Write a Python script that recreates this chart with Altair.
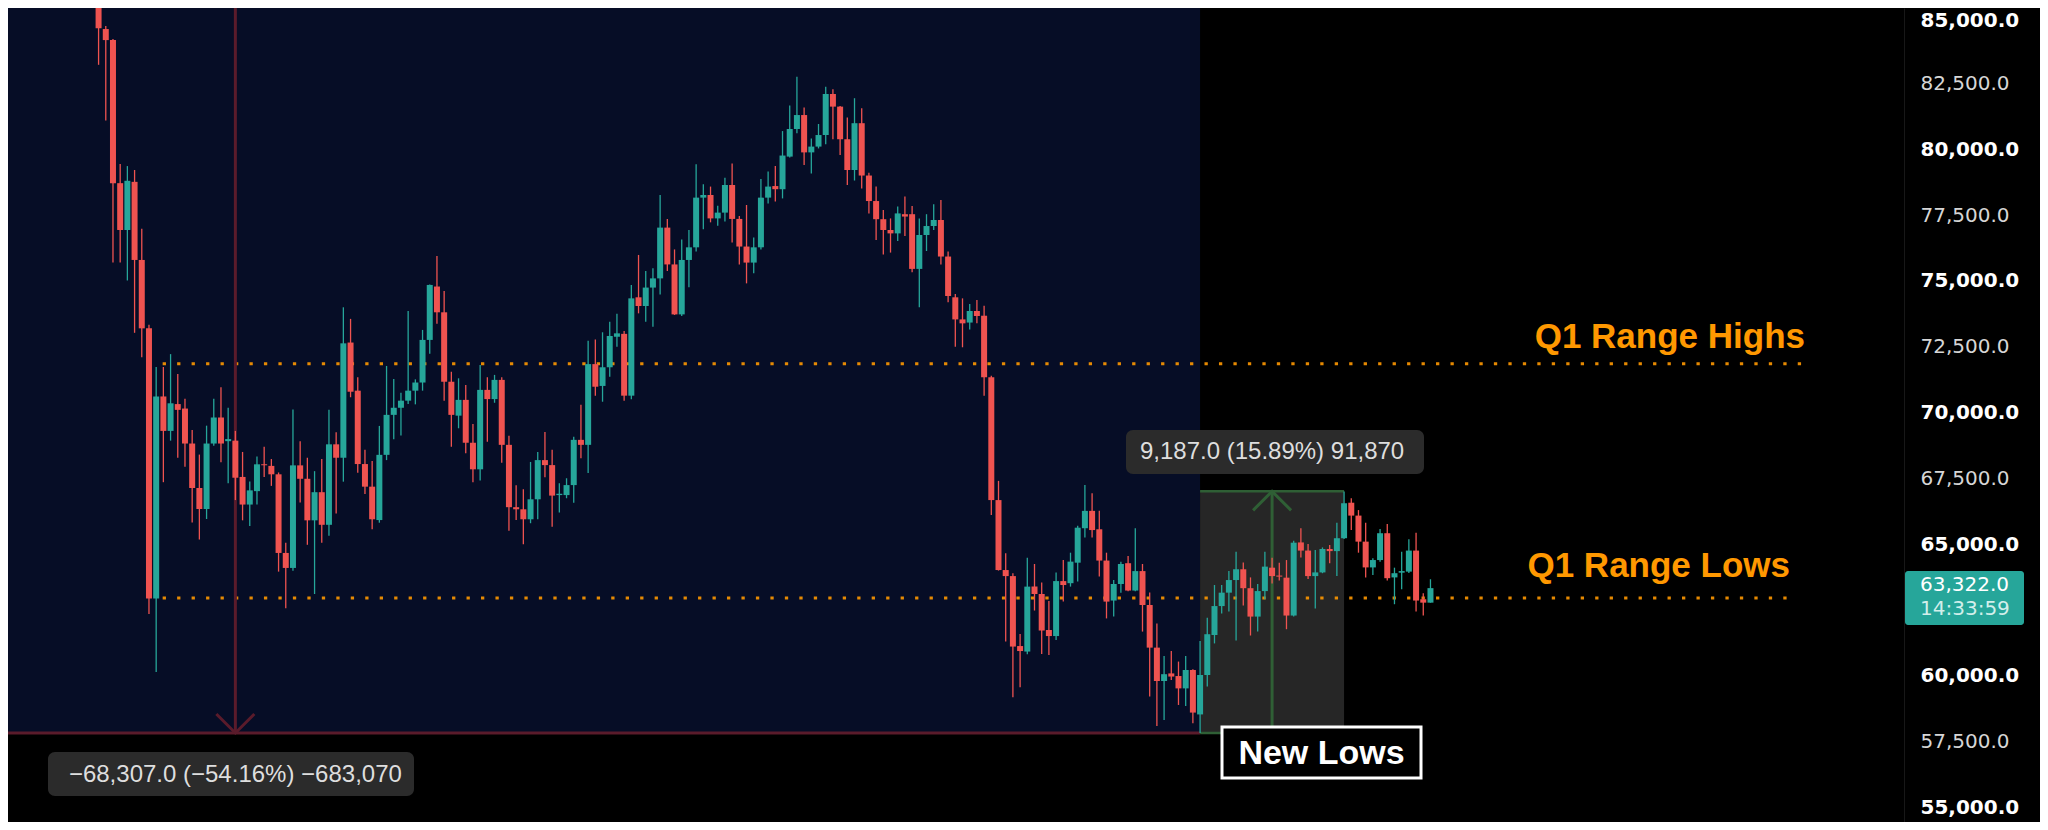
import altair as alt
import pandas as pd

# ---------------- data ----------------
opens = [
    86500, 84580, 84160, 78720, 76940, 78770, 75800, 73200, 62930, 70610,
    69300, 70320, 70150, 68820, 67130, 66330, 68820, 69810, 68910, 68930,
    67550, 66500, 67010, 68030, 67970, 67650, 64660, 64090, 67990, 67480,
    65900, 66970, 65730, 68790, 68280, 72660, 70830, 68040, 67180, 65910,
    68390, 69910, 70180, 70450, 70830, 71140, 72760, 74790, 73810, 71170,
    69880, 70480, 68850, 67840, 70860, 70510, 71240, 68770, 66400, 66320,
    65940, 66700, 68190, 68000, 66860, 66860, 67240, 68960, 68770, 71840,
    71010, 71720, 72880, 72990, 70640, 74380, 74050, 74750, 75100, 77030,
    75630, 73730, 75800, 76280, 78170, 78270, 77380, 77600, 78650, 77360,
    76310, 75700, 76280, 78170, 78610, 78490, 79730, 80780, 81310, 79890,
    80110, 80550, 82110, 81630, 80390, 79220, 81000, 79010, 78040, 77350,
    76940, 76810, 77540, 77540, 75460, 76750, 77090, 77320, 75930, 74380,
    73540, 73420, 73860, 73680, 71340, 66670, 64010, 63780, 61120, 60910,
    63380, 63100, 61730, 61500, 63590, 63510, 64290, 65600, 66260, 65560,
    64370, 62850, 63480, 64270, 63230, 63970, 62680, 61060, 59790, 60080,
    59980, 59510, 60210, 58520, 60020, 61540, 62640, 63150, 63630, 64040,
    63320, 62240, 63210, 64100, 63800, 63720, 62280, 65060, 64750, 63780,
    63920, 64810, 64730, 65220, 66570, 66080, 65090, 64110, 64390, 65410,
    63730, 63910, 63950, 64750, 62900, 62770,
]
highs = [
    87200, 84700, 84200, 79450, 79370, 79220, 76990, 73340, 71730, 71730,
    72220, 71460, 70520, 69330, 68400, 69500, 70520, 70960, 70180, 69300,
    68500, 67380, 68330, 68700, 68230, 67720, 65050, 70110, 68910, 68280,
    67770, 68230, 70100, 69250, 74000, 73560, 71340, 68580, 68160, 69490,
    71770, 71270, 70750, 73860, 71260, 73140, 74870, 75950, 74620, 71550,
    71300, 71050, 69560, 71810, 71340, 71430, 71340, 69120, 67230, 67080,
    68120, 68500, 69260, 68580, 67310, 67500, 69080, 70290, 72730, 72780,
    73050, 73450, 73750, 73100, 74850, 75990, 75380, 75480, 78270, 77360,
    76200, 76580, 76940, 79440, 78680, 78590, 77860, 78930, 79470, 77470,
    77890, 76650, 78880, 79160, 79370, 80700, 81670, 82770, 81600, 80420,
    80970, 82390, 82290, 81650, 81220, 81950, 81570, 79120, 78590, 77700,
    77380, 77830, 78210, 77850, 77380, 77540, 77920, 78080, 76120, 74510,
    74340, 74130, 74280, 74060, 71400, 67400, 64650, 63890, 61580, 64480,
    64240, 63540, 62830, 63920, 64390, 64670, 65690, 67240, 66930, 66260,
    64670, 63630, 64330, 64540, 65600, 64240, 63160, 61980, 60740, 60930,
    60530, 60740, 60240, 61310, 62200, 63440, 63440, 63970, 64710, 64300,
    63730, 63480, 64710, 64480, 64290, 64390, 65120, 65600, 65000, 64770,
    64870, 64960, 65810, 67000, 66740, 66290, 65810, 64460, 65570, 65760,
    64100, 64710, 65180, 65430, 63130, 63660,
]
lows = [
    83220, 81100, 75700, 75700, 75020, 73030, 72100, 62340, 60130, 67350,
    68930, 68280, 67940, 65820, 65170, 65950, 68740, 68110, 67310, 66670,
    65900, 65680, 66500, 67550, 67210, 63950, 62560, 63980, 66580, 64970,
    63100, 65050, 65310, 66160, 67370, 70580, 67710, 66900, 65560, 65810,
    68190, 68980, 69130, 70320, 70310, 70830, 72230, 73370, 70450, 68700,
    69400, 68450, 67350, 67410, 68890, 70370, 68090, 65500, 65910, 64990,
    65790, 65940, 67540, 65660, 66200, 66740, 66570, 68260, 67700, 70640,
    70410, 71360, 72500, 70450, 70500, 73770, 73450, 73260, 74490, 75380,
    73710, 73670, 74760, 76120, 76970, 77230, 77100, 77260, 76460, 75630,
    74910, 75290, 76200, 77950, 78020, 78140, 79700, 80620, 79410, 79090,
    80040, 80200, 80390, 79790, 78650, 78820, 78520, 77570, 76560, 76010,
    76080, 76520, 76710, 75330, 74000, 76140, 76940, 75630, 74190, 72500,
    72480, 73160, 73390, 70640, 66100, 63990, 61290, 59170, 59550, 60810,
    62470, 60820, 60780, 61350, 62810, 63380, 63570, 65250, 65250, 63760,
    62170, 62240, 63150, 63200, 63200, 61670, 59200, 58080, 58310, 59830,
    58880, 58840, 58180, 57815, 59580, 61220, 62360, 62430, 61330, 62660,
    61520, 61670, 62900, 63500, 63610, 61760, 62240, 64490, 63670, 62550,
    63890, 64270, 63780, 65190, 65530, 64670, 63730, 63820, 64330, 63610,
    62710, 63280, 63900, 62430, 62280, 62770,
]
closes = [
    84610, 84160, 78720, 76940, 78810, 75800, 73200, 62930, 70610, 69300,
    70350, 70100, 68820, 67130, 66330, 68820, 69810, 68820, 68990, 67520,
    66500, 67040, 68030, 67990, 67650, 64660, 64090, 67990, 67480, 65900,
    66970, 65730, 68790, 68280, 72630, 70790, 68040, 67180, 65940, 68390,
    69910, 70180, 70450, 70830, 71140, 72760, 74850, 73810, 71170, 69910,
    70480, 68850, 67840, 70860, 70510, 71240, 68770, 66400, 66320, 65940,
    66700, 68190, 68000, 66840, 66910, 67240, 68960, 68770, 71840, 70980,
    71720, 72910, 73010, 70640, 74340, 74050, 74750, 75100, 77030, 75630,
    73730, 75800, 76280, 78170, 78270, 77380, 77600, 78650, 77360, 76310,
    75700, 76280, 78170, 78590, 78490, 79770, 80780, 81310, 79890, 80110,
    80550, 82110, 81630, 80390, 79220, 81000, 79010, 78040, 77350, 76940,
    76810, 77570, 77450, 75460, 76750, 77090, 77320, 75930, 74430, 73540,
    73390, 73860, 73670, 71340, 66670, 64010, 63780, 61100, 60930, 63380,
    63100, 61710, 61500, 63590, 63440, 64330, 65620, 66260, 65530, 64370,
    62810, 63480, 64240, 63230, 63970, 62680, 61060, 59790, 60050, 59960,
    59510, 60210, 58590, 60020, 61570, 62640, 63150, 63630, 64040, 63320,
    62240, 63210, 64140, 63780, 63760, 62280, 65050, 64750, 63780, 63920,
    64810, 64730, 65220, 66550, 66080, 65090, 64110, 64390, 65410, 63700,
    63890, 63970, 64750, 62850, 62770, 63322,
]

tick_values = [55000, 57500, 60000, 65000, 67500, 70000, 72500,
               75000, 77500, 80000, 82500, 85000]

level_names = ["Q1 Range Highs", "Q1 Range Lows"]
level_prices = [71850, 62950]
level_from_bar = [8.9, 8.9]
level_to_bar = [237.3, 235.4]

measure_from_bar = [-115, 153]
measure_to_bar = [153, 173]
measure_from_price = [126121.6, 57814.6]
measure_to_price = [57814.6, 67001.6]
measure_labels = ["\u221268,307.0 (\u221254.16%) \u2212683,070",
                  "9,187.0 (15.89%) 91,870"]

last_price_text = "63,322.0"
countdown_text = "14:33:59"
note_text = "New Lows"

# ---------------- styling ----------------
TEAL = "#26a69a"
RED = "#ef5350"
ORANGE = "#ff9800"
NAVY = "#060d26"
GRAY_BOX = "#262626"
RED_LINE = "#5a1b2b"
GREEN_LINE = "#2f5f35"
LABEL_BOX = "#2b2b2b"
LABEL_TEXT = "#dedede"

W, H = 2032, 814
X_DOMAIN = [-11.887, 268.97]
Y_DOMAIN = [54430, 85380]

candles = pd.DataFrame({
    "bar": list(range(len(opens))),
    "open": opens, "high": highs, "low": lows, "close": closes,
})
candles["dir"] = ["up" if c >= o else "down" for o, c in zip(opens, closes)]

levels = pd.DataFrame({"name": level_names, "price": level_prices,
                       "from_bar": level_from_bar, "to_bar": level_to_bar})
measures = pd.DataFrame({"from_bar": measure_from_bar, "to_bar": measure_to_bar,
                         "from_price": measure_from_price, "to_price": measure_to_price,
                         "label": measure_labels})
measures["mid"] = (measures["from_bar"] + measures["to_bar"]) / 2
m1 = measures.iloc[[0]].reset_index(drop=True)
m2 = measures.iloc[[1]].reset_index(drop=True)
last = pd.DataFrame({"price": [closes[-1]], "p": [last_price_text], "t": [countdown_text]})
note = pd.DataFrame({"label": [note_text]})

y_axis = alt.Axis(
    orient="right", offset=-136, values=tick_values, format=",.1f",
    labelFont="DejaVu Sans", labelFontSize=20,
    labelFontWeight=alt.ExprRef(expr="datum.value % 5000 === 0 ? 'bold' : 'normal'"),
    labelColor=alt.ExprRef(expr="datum.value % 5000 === 0 ? '#ffffff' : '#d6d6d6'"),
    labelOffset=alt.ExprRef(expr="datum.value >= 85000 ? 3 : 0"),
    labelPadding=16, ticks=False, tickSize=0, grid=False,
    domain=True, domainColor="#181818", domainWidth=1, title=None,
    labelOverlap=False,
)


def X(field):
    return alt.X(f"{field}:Q", scale=alt.Scale(domain=X_DOMAIN, nice=False, zero=False), axis=None)


def Y(field):
    return alt.Y(f"{field}:Q", scale=alt.Scale(domain=Y_DOMAIN, nice=False, zero=False), axis=y_axis)


color_dir = alt.Color("dir:N", scale=alt.Scale(domain=["up", "down"], range=[TEAL, RED]), legend=None)

# measurement boxes
navy_box = alt.Chart(m1).mark_rect(color=NAVY, clip=True).encode(
    x=X("from_bar"), x2=alt.X2("to_bar"), y=Y("from_price"), y2=alt.Y2("to_price"))
gray_box = alt.Chart(m2).mark_rect(color=GRAY_BOX, clip=True).encode(
    x=X("from_bar"), x2=alt.X2("to_bar"), y=Y("from_price"), y2=alt.Y2("to_price"))

# level lines (dotted)
level_lines = alt.Chart(levels).mark_rule(
    color=ORANGE, strokeWidth=3, strokeDash=[3.3, 11.17], opacity=0.9, clip=True
).encode(x=X("from_bar"), x2=alt.X2("to_bar"), y=Y("price"))

# red measurement lines
red_h = alt.Chart(m1).mark_rule(color=RED_LINE, strokeWidth=3, clip=True).encode(
    x=X("from_bar"), x2=alt.X2("to_bar"), y=Y("to_price"))
red_v = alt.Chart(m1).mark_rule(color=RED_LINE, strokeWidth=3, clip=True).encode(
    x=X("mid"), y=Y("from_price"), y2=alt.Y2("to_price"))
red_head = alt.Chart(m1).mark_point(
    shape="M-1,-1L0,0L1,-1", size=1444, filled=False, color=RED_LINE,
    strokeWidth=3, opacity=1).encode(x=X("mid"), y=Y("to_price"))

# green measurement lines
green_top = alt.Chart(m2).mark_rule(color=GREEN_LINE, strokeWidth=2.5).encode(
    x=X("from_bar"), x2=alt.X2("to_bar"), y=Y("to_price"))
green_bot = alt.Chart(m2).mark_rule(color=GREEN_LINE, strokeWidth=2.5).encode(
    x=X("from_bar"), x2=alt.X2("to_bar"), y=Y("from_price"))
green_v = alt.Chart(m2).mark_rule(color=GREEN_LINE, strokeWidth=3).encode(
    x=X("mid"), y=Y("from_price"), y2=alt.Y2("to_price"))
green_head = alt.Chart(m2).mark_point(
    shape="M-1,1L0,0L1,1", size=1444, filled=False, color=GREEN_LINE,
    strokeWidth=3, opacity=1).encode(x=X("mid"), y=Y("to_price"))

# candles
wicks = alt.Chart(candles).mark_rule(strokeWidth=1.3, clip=True).encode(
    x=X("bar"), y=Y("low"), y2=alt.Y2("high"), color=color_dir)
bodies = alt.Chart(candles).mark_bar(size=6, clip=True).encode(
    x=X("bar"), y=Y("open"), y2=alt.Y2("close"), color=color_dir)

# level labels
hi_label = alt.Chart(levels.iloc[[0]]).mark_text(
    align="right", baseline="alphabetic", font="Liberation Sans", fontWeight="bold",
    fontSize=35, color=ORANGE, dy=-15.8).encode(x=alt.value(1797), y=Y("price"), text="name:N")
lo_label = alt.Chart(levels.iloc[[1]]).mark_text(
    align="right", baseline="alphabetic", font="Liberation Sans", fontWeight="bold",
    fontSize=35, color=ORANGE, dy=-20.9).encode(x=alt.value(1782), y=Y("price"), text="name:N")

# measurement label boxes
box1 = alt.Chart(m1).mark_rect(color=LABEL_BOX, cornerRadius=7).encode(
    x=alt.value(40), x2=alt.value(406), y=alt.value(744), y2=alt.value(788))
text1 = alt.Chart(m1).mark_text(
    font="Liberation Sans", fontSize=24, color=LABEL_TEXT, baseline="middle", align="center"
).encode(x=X("mid"), y=alt.value(767), text="label:N")
box2 = alt.Chart(m2).mark_rect(color=LABEL_BOX, cornerRadius=7).encode(
    x=alt.value(1118), x2=alt.value(1416), y=alt.value(422), y2=alt.value(466))
text2 = alt.Chart(m2).mark_text(
    font="Liberation Sans", fontSize=24, color=LABEL_TEXT, baseline="middle", align="center"
).encode(x=X("mid"), y=alt.value(444), text="label:N")

# "New Lows" note
note_box = alt.Chart(note).mark_rect(fill="#000000", stroke="#ffffff", strokeWidth=3).encode(
    x=alt.value(1214), x2=alt.value(1413), y=alt.value(719), y2=alt.value(770))
note_label = alt.Chart(note).mark_text(
    font="Liberation Sans", fontWeight="bold", fontSize=34, color="#ffffff",
    align="center", baseline="alphabetic").encode(
    x=alt.value(1313.5), y=alt.value(756), text="label:N")

# last price tag
price_box = alt.Chart(last).mark_rect(color=TEAL, cornerRadius=3).encode(
    x=alt.value(1897), x2=alt.value(2016), y=alt.value(563), y2=alt.value(617))
price_text = alt.Chart(last).mark_text(
    font="DejaVu Sans", fontSize=20, color="#ffffff", align="left", baseline="middle"
).encode(x=alt.value(1912), y=alt.value(577), text="p:N")
time_text = alt.Chart(last).mark_text(
    font="DejaVu Sans", fontSize=20, color="#d2efeb", align="left", baseline="middle"
).encode(x=alt.value(1912), y=alt.value(601), text="t:N")

chart = alt.layer(
    navy_box, gray_box, level_lines,
    red_h, red_v, red_head,
    green_top, green_bot, green_v, green_head,
    wicks, bodies,
    hi_label, lo_label,
    box1, text1, box2, text2,
    note_box, note_label,
    price_box, price_text, time_text,
).properties(
    width=W, height=H, padding=0,
    autosize=alt.AutoSizeParams(type="none"),
    background="#000000",
).configure_view(strokeWidth=0)

chart.save("out.html", embed_options={"renderer": "svg", "actions": False})
